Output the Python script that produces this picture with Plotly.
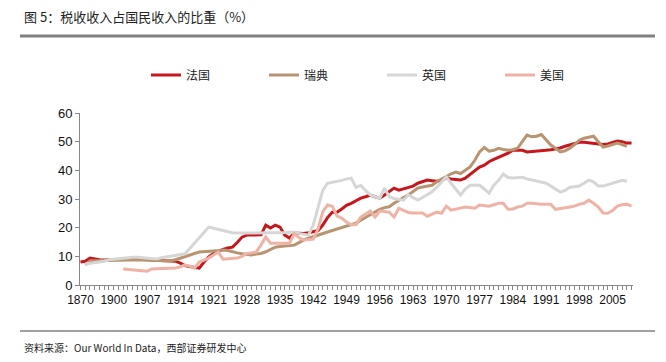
import plotly.graph_objects as go

years = ["1870", "1875", "1880", "1885", "1890", "1895", "1899"] + [str(y) for y in range(1900, 2010)]

france = [8.0, 8.3, 9.4, 9.0, 8.8, 8.7, 8.8,
          8.8, 8.9, 9.0, 9.0, 9.1, 9.0, 8.9, 8.8, 8.8, 8.7,
          8.6, 8.4, 8.2, 8.3, 7.6, 6.8, 6.4, 6.2, 5.9, 8.0,
          9.8, 11.0, 11.8, 12.4, 12.9, 13.2, 14.8, 16.7, 17.4, 17.4,
          17.4, 17.5, 20.9, 19.9, 20.9, 20.2, 17.4, 16.4, 18.1, 18.0,
          18.0, 18.2, 18.5, 19.0, 20.9, 23.5, 25.4, 25.4, 26.5, 27.8,
          28.5, 29.5, 30.3, 30.8, 31.4, 30.8, 30.3, 31.4, 32.5, 33.8,
          33.1, 33.5, 34.0, 34.5, 35.5, 36.0, 36.6, 36.4, 36.2, 36.5,
          37.3, 37.0, 36.8, 36.6, 37.3, 38.5, 40.0, 41.1, 41.8, 43.0,
          43.8, 44.5, 45.3, 46.0, 47.0, 47.0, 47.0, 46.4, 46.5, 46.7,
          46.8, 47.0, 47.2, 47.4, 47.8, 48.4, 48.8, 49.3, 49.8, 49.8,
          49.6, 49.4, 49.3, 49.0, 49.2, 49.6, 50.2, 50.0, 49.5, 49.5]

sweden = [None, 7.0, 8.4, 8.5, 8.5, 8.6, 8.6,
          8.6, 8.7, 8.7, 8.7, 8.8, 8.8, 8.8, 8.8, 8.7, 8.6,
          8.5, 8.4, 8.5, 8.8, 9.4, 10.0, 10.6, 11.0, 11.5, 11.7,
          11.8, 11.9, 12.0, 12.2, 12.0, 11.5, 11.2, 10.9, 10.6, 10.5,
          10.8, 11.0, 11.6, 12.3, 13.2, 13.4, 13.6, 13.7, 13.9, 14.8,
          15.7, 16.3, 16.9, 17.4, 18.0, 18.5, 19.0, 19.5, 19.9, 20.5,
          21.0, 21.6, 22.6, 23.5, 24.4, 25.4, 26.4, 27.0, 27.3, 28.5,
          29.6, 30.5, 31.4, 32.5, 33.8, 34.2, 34.5, 34.8, 36.0, 37.0,
          38.0, 38.8, 39.4, 38.9, 40.0, 41.2, 43.5, 46.4, 48.0, 46.7,
          47.0, 47.7, 47.3, 47.0, 47.2, 47.7, 50.0, 52.3, 51.7, 51.9,
          52.5, 50.5, 48.8, 47.7, 46.4, 46.8, 47.7, 49.0, 50.5, 51.2,
          51.5, 51.9, 50.0, 48.1, 48.5, 49.0, 49.5, 49.0, 48.4, None]

uk = [None, 7.3, 7.5, 7.8, 8.0, 8.3, 8.8,
      9.0, 9.2, 9.4, 9.6, 9.7, 9.7, 9.5, 9.3, 9.1, 9.1,
      9.5, 9.8, 10.0, 10.3, 10.6, 10.9, 12.7, 14.6, 16.5, 18.4,
      20.2, 19.8, 19.4, 19.0, 18.6, 18.2, 18.1, 18.1, 18.1, 18.1,
      18.1, 18.1, 18.1, 18.2, 18.2, 18.3, 18.3, 18.4, 18.4, 18.0,
      17.6, 17.4, 21.0, 27.0, 33.0, 35.5, 35.8, 36.1, 36.5, 37.0,
      37.3, 34.0, 34.8, 33.0, 31.4, 30.8, 30.3, 33.8, 30.8, 30.2,
      29.8, 29.6, 31.4, 30.5, 29.6, 30.5, 31.4, 32.5, 34.1, 36.0,
      37.7, 35.5, 33.5, 31.4, 33.5, 34.8, 34.8, 34.8, 33.5, 32.0,
      34.8, 36.5, 38.7, 37.5, 37.3, 37.5, 37.6, 37.0, 36.6, 36.2,
      35.9, 35.5, 34.5, 33.5, 32.4, 33.0, 34.1, 34.3, 34.5, 35.5,
      36.6, 36.0, 34.5, 34.5, 35.0, 35.5, 35.9, 36.5, 36.2, None]

usa = [None, None, None, None, None, None, None,
       None, None, 5.6, 5.5, 5.4, 5.2, 5.0, 4.8, 5.6, 5.7,
       5.8, 5.9, 5.9, 5.9, 6.3, 7.0, 6.6, 5.9, 8.0, 8.7,
       9.4, 10.5, 11.5, 9.0, 9.2, 9.3, 9.4, 10.0, 11.0, 11.2,
       11.5, 14.0, 16.7, 14.6, 14.6, 14.6, 14.6, 14.6, 18.0, 16.5,
       15.7, 15.8, 16.0, 19.5, 25.5, 27.9, 27.5, 24.0, 23.3, 22.0,
       21.0, 21.0, 23.7, 24.8, 25.8, 23.7, 25.8, 25.6, 25.4, 23.7,
       26.8, 26.0, 25.3, 25.1, 25.1, 25.1, 24.0, 24.7, 25.4, 25.0,
       27.5, 26.1, 26.5, 26.8, 27.2, 27.0, 26.8, 27.9, 27.7, 27.5,
       28.0, 28.5, 28.5, 26.4, 26.5, 27.2, 27.5, 28.5, 28.5, 28.3,
       28.2, 28.2, 28.2, 26.4, 26.6, 27.0, 27.2, 27.5, 28.2, 28.5,
       29.6, 28.5, 27.2, 25.1, 25.0, 26.0, 27.5, 28.0, 28.2, 27.5]

series = [("法国", france, "#C8161D"), ("瑞典", sweden, "#B99470"),
          ("英国", uk, "#D6D6D6"), ("美国", usa, "#EFB3A6")]

y_ticks = [0, 10, 20, 30, 40, 50, 60]
x_ticktext = [y if i % 7 == 0 else "" for i, y in enumerate(years)]

fig = go.Figure()
for name, vals, color in series:
    fig.add_trace(go.Scatter(x=years, y=vals, name=name, mode="lines",
                             line=dict(color=color, width=3)))

cjk = "Noto Sans CJK SC"
H = 172.0  # plot height in px
fig.update_layout(
    width=666, height=362,
    margin=dict(l=80, r=33, t=113, b=77, autoexpand=False),
    paper_bgcolor="white", plot_bgcolor="white",
    showlegend=True,
    legend=dict(orientation="h", x=(146 - 80) / 553.0, xanchor="left",
                y=1 + (113 - 75) / H, yanchor="middle",
                font=dict(family=cjk, size=12, color="#222"),
                entrywidth=73, entrywidthmode="pixels",
                itemwidth=30, bgcolor="rgba(0,0,0,0)", tracegroupgap=0),
    xaxis=dict(type="category", range=[-0.1, 116.3], tickmode="array",
               tickvals=years, ticktext=x_ticktext, tickangle=0, automargin=False,
               ticks="outside", ticklen=4, tickcolor="#888", tickwidth=1,
               showline=True, linecolor="#888", linewidth=1, showgrid=False,
               tickfont=dict(family="Liberation Sans, Arial", size=12, color="#111")),
    yaxis=dict(range=[0, 60], tickvals=y_ticks, ticks="outside", ticklen=4, automargin=False,
               tickcolor="#888", showline=True, linecolor="#888", linewidth=1,
               showgrid=False, zeroline=False,
               tickfont=dict(family="Liberation Sans, Arial", size=13, color="#111")),
)

fig.add_annotation(text="图 5：税收收入占国民收入的比重（%）", xref="paper", yref="paper",
                   x=-58 / 553.0, xanchor="left", y=1 + (113 - 17) / H, yanchor="middle",
                   showarrow=False,
                   font=dict(family=cjk, size=13, color="#222"))
fig.add_annotation(text="资料来源：Our World In Data，西部证券研发中心", xref="paper", yref="paper",
                   x=-58 / 553.0, xanchor="left", y=-(347 - 285) / H, yanchor="middle",
                   showarrow=False, font=dict(family=cjk, size=10, color="#222"))

fig.add_shape(type="line", xref="paper", yref="paper", x0=-60 / 553.0, x1=(655 - 80) / 553.0,
              y0=1 + (113 - 36) / H, y1=1 + (113 - 36) / H, line=dict(color="#808080", width=3))
fig.add_shape(type="line", xref="paper", yref="paper", x0=-60 / 553.0, x1=(655 - 80) / 553.0,
              y0=-(331 - 285) / H, y1=-(331 - 285) / H, line=dict(color="#808080", width=1.5))

fig.write_html("out.html", config={"displayModeBar": False},
               post_script="document.body.style.margin='0';")
